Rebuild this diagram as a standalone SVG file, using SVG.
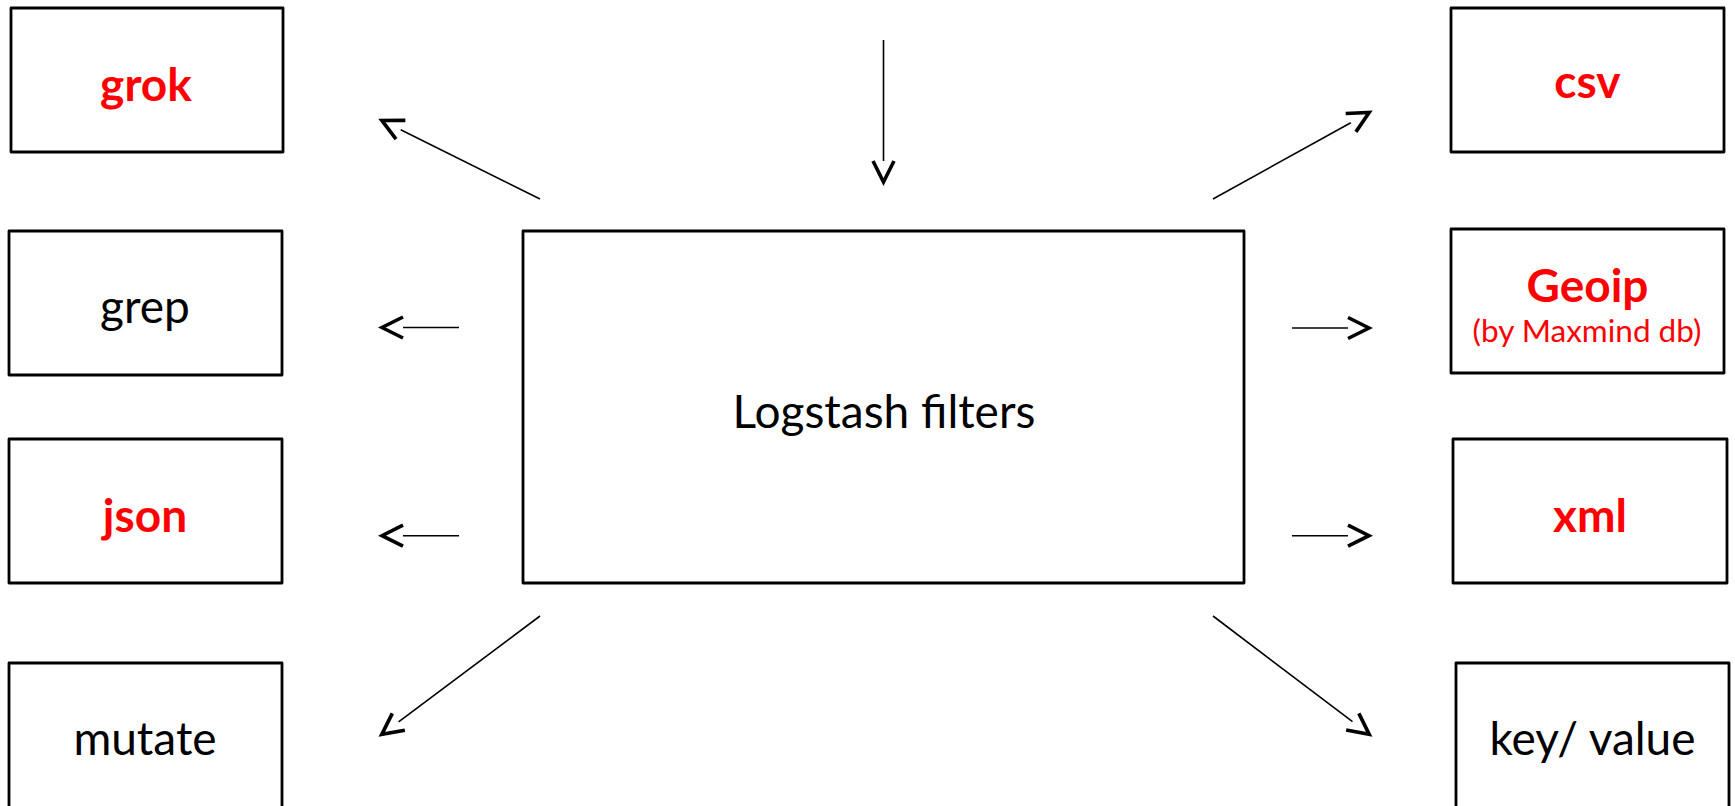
<svg xmlns="http://www.w3.org/2000/svg" width="1735" height="806" viewBox="0 0 1735 806">
<style>
.box{fill:#fff;stroke:#000;stroke-width:2.8;stroke-linejoin:round}
.lbl{font-family:Lato,"Open Sans","DejaVu Sans",sans-serif;font-size:46px;text-anchor:middle;fill:#000}
.red{fill:#ff0000;font-weight:bold}
.sub{font-size:31.5px;font-weight:normal}
.con{stroke:#000;stroke-width:1.6;fill:none}
</style>
<defs>
<marker id="ah" markerUnits="userSpaceOnUse" viewBox="-3 -14 28 28" markerWidth="28" markerHeight="28" refX="0" refY="0" orient="auto">
<path d="M0,-10.5 L21,0 L0,10.5" fill="none" stroke="#000" stroke-width="3.6" stroke-linejoin="miter"/>
</marker>
</defs>
<rect width="1735" height="806" fill="#fff"/>
<g id="connectors">
<line class="con" x1="883.5" y1="40" x2="883.5" y2="161" marker-end="url(#ah)"/>
<line class="con" x1="540" y1="199" x2="400.7" y2="129.8" marker-end="url(#ah)"/>
<line class="con" x1="459" y1="327.5" x2="403" y2="327.5" marker-end="url(#ah)"/>
<line class="con" x1="459" y1="535.7" x2="403" y2="535.7" marker-end="url(#ah)"/>
<line class="con" x1="540" y1="616" x2="398.6" y2="721.8" marker-end="url(#ah)"/>
<line class="con" x1="1213" y1="199" x2="1350.8" y2="122.7" marker-end="url(#ah)"/>
<line class="con" x1="1292" y1="328" x2="1348" y2="328" marker-end="url(#ah)"/>
<line class="con" x1="1292" y1="535.7" x2="1348" y2="535.7" marker-end="url(#ah)"/>
<line class="con" x1="1213" y1="616" x2="1352.5" y2="721.7" marker-end="url(#ah)"/>
</g>
<g id="center">
<rect class="box" x="523" y="231" width="721" height="352"/>
<text class="lbl" x="884" y="428" font-size="47.5">Logstash filters</text>
</g>
<g id="grok">
<rect class="box" x="11" y="8" width="272" height="144"/>
<text class="lbl red" x="146" y="101" font-size="47.5">grok</text>
</g>
<g id="grep">
<rect class="box" x="9" y="231" width="273" height="144"/>
<text class="lbl" x="145" y="323">grep</text>
</g>
<g id="json">
<rect class="box" x="9" y="439" width="273" height="144"/>
<text class="lbl red" x="145" y="532">json</text>
</g>
<g id="mutate">
<rect class="box" x="9" y="663" width="273" height="152"/>
<text class="lbl" x="145" y="755" font-size="47.5">mutate</text>
</g>
<g id="csv">
<rect class="box" x="1451" y="8" width="273" height="144"/>
<text class="lbl red" x="1587.5" y="98">csv</text>
</g>
<g id="geoip">
<rect class="box" x="1451" y="229" width="273" height="144"/>
<text class="lbl red" x="1587.5" y="302" font-size="43.5">Geoip</text>
<text class="lbl red sub" x="1587" y="342">(by Maxmind db)</text>
</g>
<g id="xml">
<rect class="box" x="1453" y="439" width="274" height="144"/>
<text class="lbl red" x="1590" y="532">xml</text>
</g>
<g id="keyvalue">
<rect class="box" x="1456" y="663" width="273" height="152"/>
<text class="lbl" x="1592.5" y="755">key/ value</text>
</g>
</svg>
